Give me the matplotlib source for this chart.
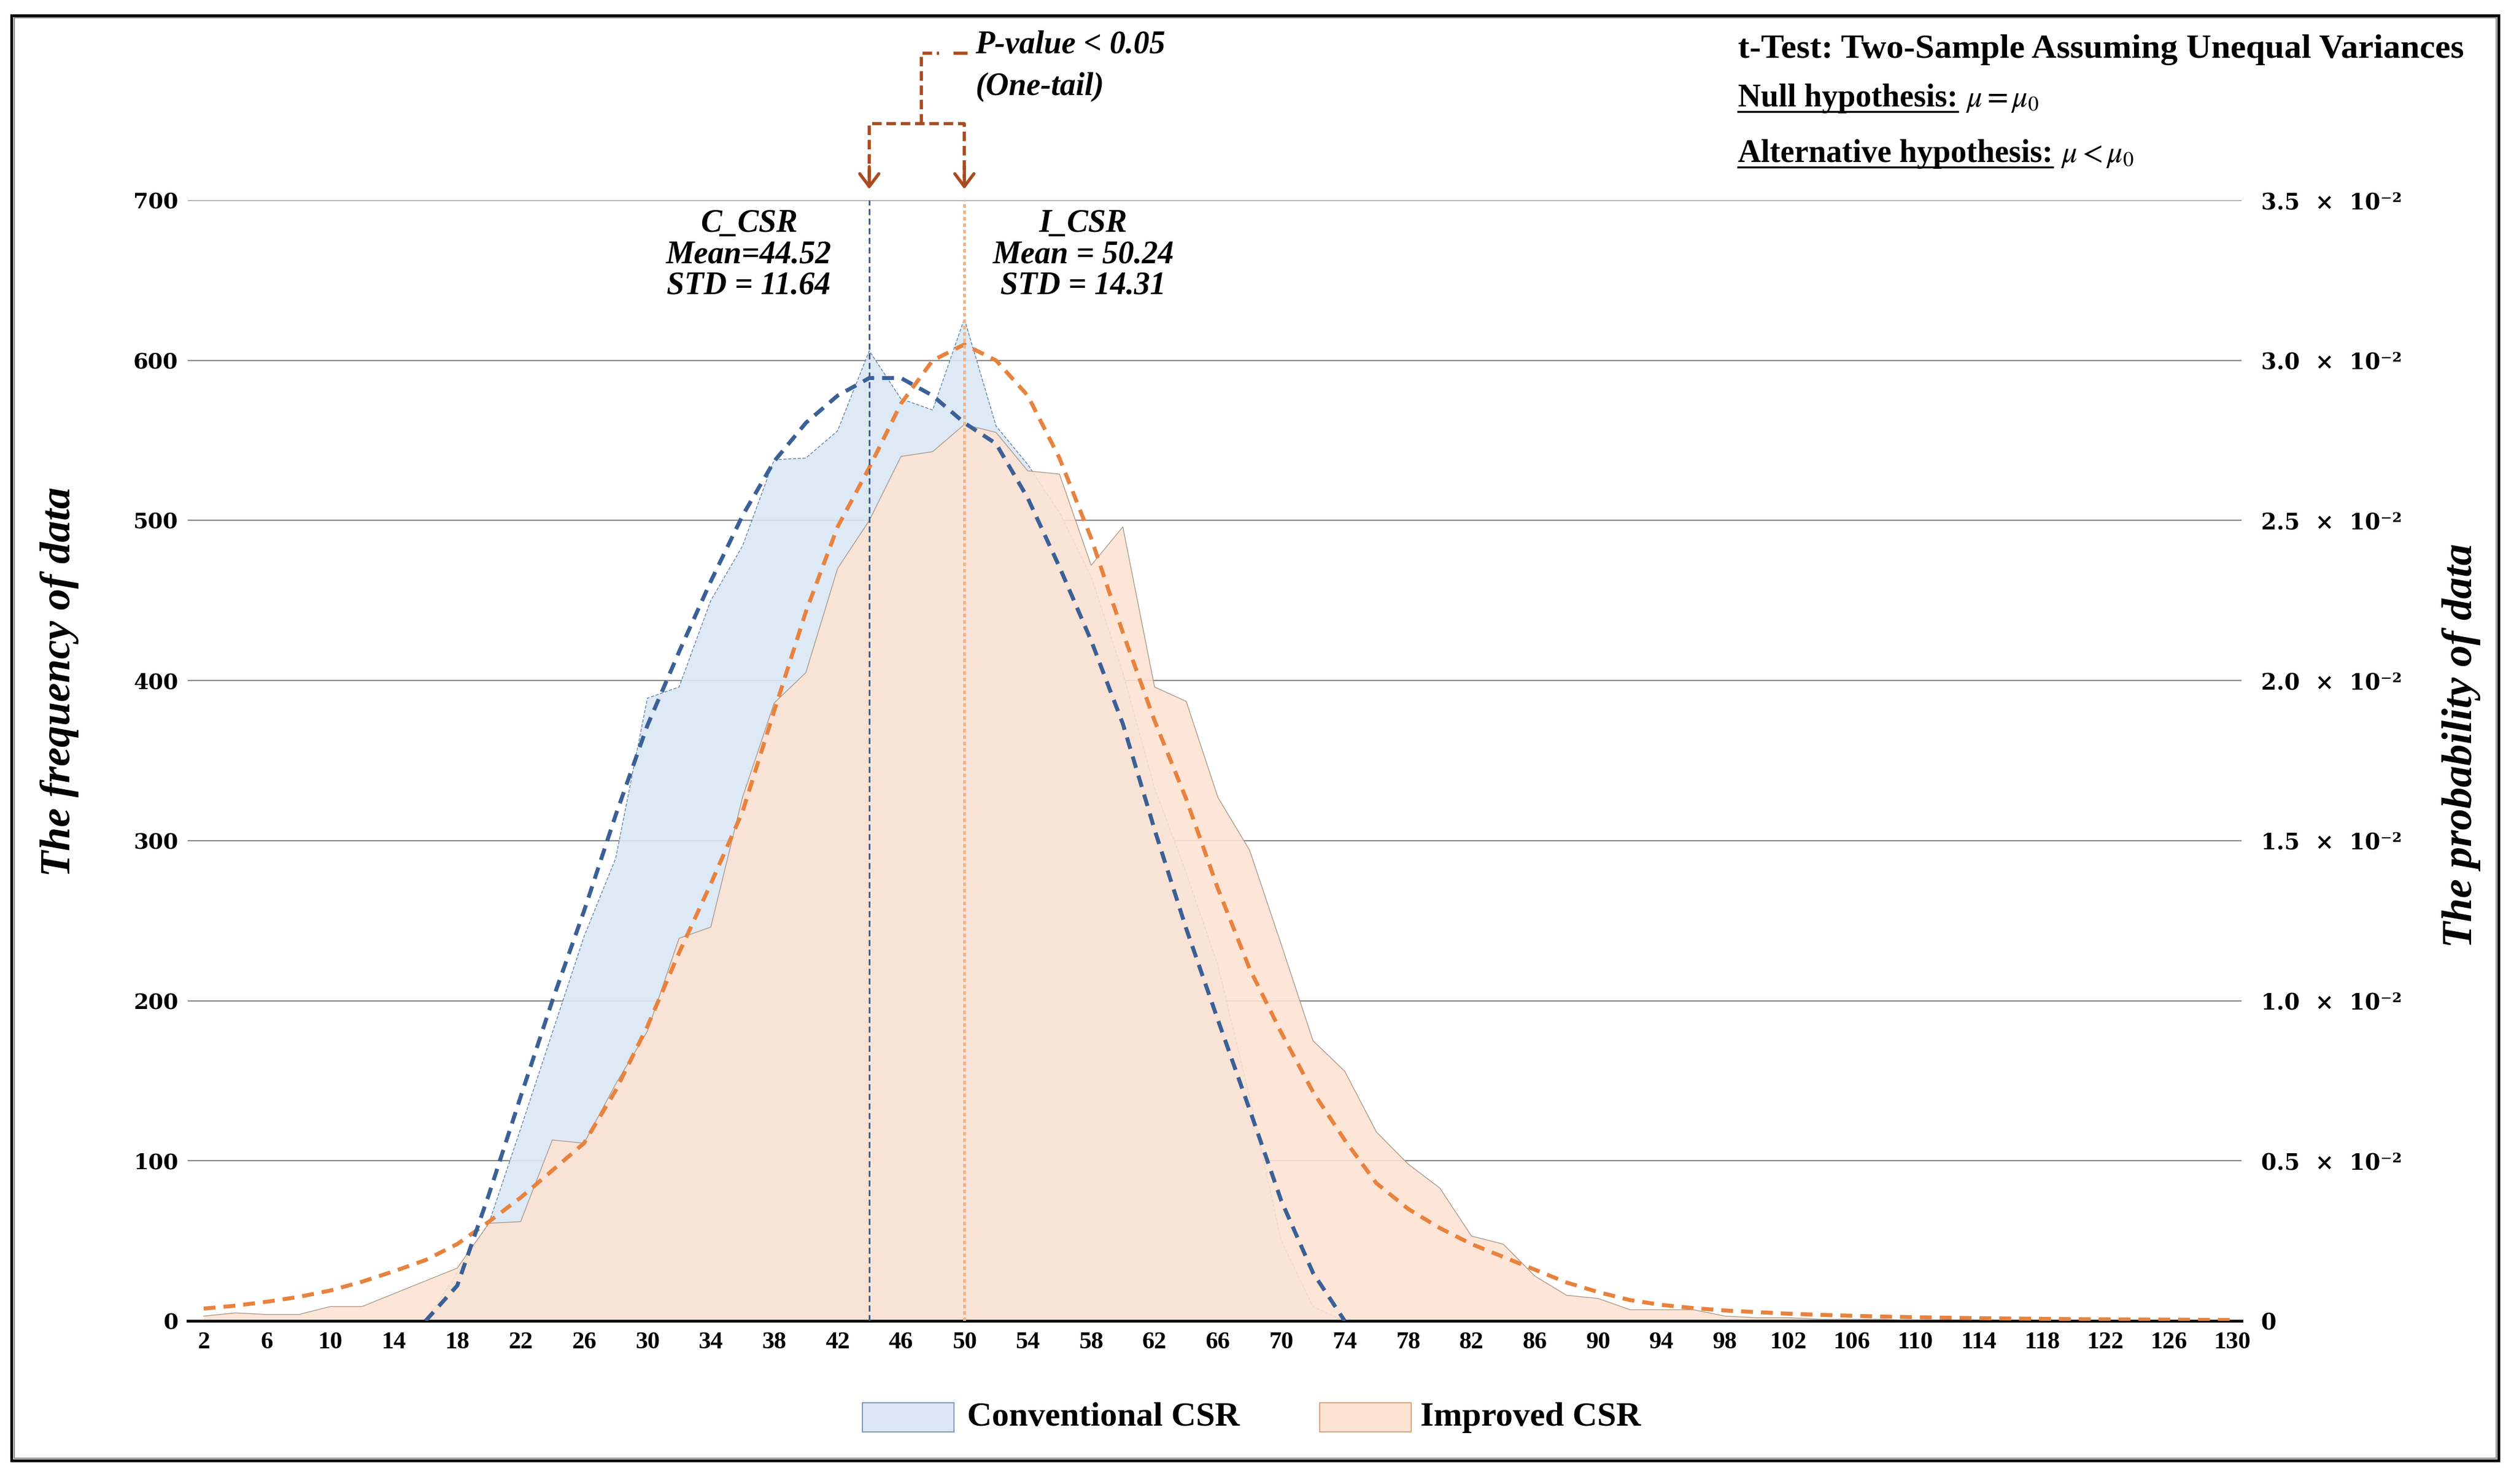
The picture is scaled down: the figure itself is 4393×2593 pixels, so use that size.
import numpy as np
import matplotlib
matplotlib.use('Agg')
import matplotlib.pyplot as plt
from matplotlib.patches import Rectangle
from matplotlib.lines import Line2D

plt.rcParams['font.family'] = 'serif'
plt.rcParams['font.serif'] = ['Liberation Serif', 'DejaVu Serif']
plt.rcParams['mathtext.fontset'] = 'stix'

# bins every 2 units, labels every 4
bins = list(range(2, 131, 2))
xtick_vals = list(range(2, 131, 4))

# frequency of data (left axis)
freq_conv = [0, 0, 0, 0, 0, 0, 0, 0,
             30, 61, 120, 180, 240, 289, 389, 396, 450, 484, 538, 539,
             556, 606, 576, 569, 626, 559, 535, 505, 465, 405, 333, 280,
             222, 140, 50, 9,
             0, 0, 0, 0, 0, 0, 0, 0, 0, 0, 0, 0, 0, 0, 0, 0, 0, 0, 0, 0,
             0, 0, 0, 0, 0, 0, 0, 0, 0]
freq_impr = [3, 5, 4, 4, 9, 9, 17, 25, 33, 61, 62, 113, 111, 148, 181, 239,
             246, 327, 386, 405, 470, 500, 540, 543, 560, 555, 531, 529, 472, 496,
             396, 387, 327, 294, 235, 175, 156, 118, 98, 83, 53, 48, 28, 16,
             14, 7, 7, 7, 3, 2, 2, 1, 1, 1,
             0, 0, 0, 0, 0, 0, 0, 0, 0, 0, 0]

# fitted probability curves (right axis), in units of 1e-2
fit_x_conv = list(range(16, 75, 2))
fit_conv_e2 = [0, 0.11, 0.395, 0.70, 1.00, 1.28, 1.58, 1.86, 2.09, 2.31,
               2.515, 2.685, 2.805, 2.89, 2.945, 2.945, 2.89, 2.805, 2.74, 2.57,
               2.355, 2.125, 1.865, 1.535, 1.225, 0.94, 0.66, 0.375, 0.15, 0]
fit_impr_e2 = [0.0385, 0.0475, 0.06, 0.075, 0.095, 0.1225, 0.155, 0.19, 0.24, 0.31,
               0.385, 0.47, 0.555, 0.72, 0.92, 1.15, 1.365, 1.59, 1.905, 2.215,
               2.48, 2.665, 2.865, 3.0, 3.05, 3.0, 2.89, 2.695, 2.445, 2.15,
               1.875, 1.63, 1.35, 1.1, 0.9, 0.715, 0.565, 0.43, 0.35, 0.29,
               0.24, 0.2, 0.16, 0.12, 0.09, 0.065, 0.05, 0.04, 0.0325, 0.0275,
               0.0225, 0.019, 0.016, 0.0135, 0.0115, 0.01, 0.0085, 0.0075, 0.0065, 0.0055,
               0.005, 0.0045, 0.004, 0.0035, 0.003]

mean_lines = [44, 50]
prob_ticks = [0, 0.5, 1.0, 1.5, 2.0, 2.5, 3.0, 3.5]

BLUE_FILL = '#dbe7f5'
ORANGE_FILL = '#fde3d2'
BLUE_FIT = '#3a6096'
ORANGE_FIT = '#e8823e'
BROWN = '#a84b1f'

fig = plt.figure(figsize=(43.93, 25.93), dpi=100)
ax = fig.add_axes([0.0747, 0.1099, 0.817, 0.7551])
ax.set_xlim(1, 130.6)
ax.set_ylim(0, 700)

ax.set_axisbelow(True)
ax.grid(axis='y', color='#888888', lw=1.6)

ax.fill_between(bins, freq_conv, color=BLUE_FILL, alpha=0.9, lw=0, zorder=1)
ax.plot(bins, freq_conv, color='#5b7fa8', lw=1.0, dashes=(4, 2), zorder=1.1)
ax.fill_between(bins, freq_impr, color=ORANGE_FILL, alpha=0.88, lw=0, zorder=2)
ax.plot(bins, freq_impr, color='#a89888', lw=1.0, zorder=2.1)

for s in ['left', 'right', 'top']:
    ax.spines[s].set_visible(False)
ax.spines['bottom'].set_linewidth(3.5)
ax.spines['bottom'].set_zorder(6)

ax.set_xticks(xtick_vals)
ax.set_xticklabels([str(v) for v in xtick_vals], fontsize=31, fontweight='bold')
ax.set_yticks(range(0, 701, 100))
ax.set_yticklabels([str(v) for v in range(0, 701, 100)], fontsize=27,
                   fontweight='bold', fontfamily='DejaVu Serif')
ax.tick_params(axis='x', length=0, pad=14)
ax.tick_params(axis='y', length=0, pad=12)

ax2 = ax.twinx()
ax2.set_ylim(0, 0.035)
ax2.set_yticks([t * 1e-2 for t in prob_ticks])
ax2.set_yticklabels(['0'] + ['%.1f  ×  10⁻²' % t for t in prob_ticks[1:]],
                    fontsize=28, fontweight='bold', fontfamily='DejaVu Serif')
ax2.tick_params(axis='y', length=0, pad=24)
for s in ax2.spines.values():
    s.set_visible(False)

ax2.plot(bins, np.array(fit_impr_e2) * 1e-2, color=ORANGE_FIT, lw=5, dashes=(3, 2))
ax2.plot(fit_x_conv, np.array(fit_conv_e2) * 1e-2, color=BLUE_FIT, lw=5, dashes=(3, 2))

# mean lines
ax2.axvline(mean_lines[0], color=BLUE_FIT, lw=2.2, dashes=(3.5, 2))
ax2.axvline(mean_lines[1], color='#f4b183', lw=3.5, dashes=(1.3, 1.0))

# p-value bracket
ax.plot([mean_lines[0], mean_lines[0], mean_lines[1], mean_lines[1]], [714, 748, 748, 714],
        color=BROWN, lw=4, dashes=(3, 1.5), clip_on=False)
ax.plot([47.3, 47.3, 48.4], [748, 792, 792], color=BROWN, lw=4, dashes=(3, 1.5), clip_on=False)
ax.plot([49.4, 50.1], [792, 792], color=BROWN, lw=4, clip_on=False)
for mx in mean_lines:
    ax.annotate('', xy=(mx, 706), xytext=(mx, 722), annotation_clip=False,
                arrowprops=dict(arrowstyle='->,head_length=0.8,head_width=0.6',
                                color=BROWN, lw=4, mutation_scale=20))

it = dict(fontsize=40, fontweight='bold', style='italic', clip_on=False)
ax.text(50.7, 797, 'P-value < 0.05', ha='left', va='center', **it)
ax.text(50.7, 771, '(One-tail)', ha='left', va='center', **it)
ax.text(36.4, 666, 'C_CSR\nMean=44.52\nSTD = 11.64', ha='center', va='center',
        linespacing=1.05, **it)
ax.text(57.5, 666, 'I_CSR\nMean = 50.24\nSTD = 14.31', ha='center', va='center',
        linespacing=1.05, **it)

# axis titles
fig.text(0.0236, 0.5407, 'The frequency of data', rotation=90, ha='center', va='center',
         fontsize=54, fontweight='bold', style='italic')
fig.text(0.979, 0.4975, 'The probability of data', rotation=90, ha='center', va='center',
         fontsize=54, fontweight='bold', style='italic')

# test box top right
fig.text(0.6913, 0.961, 't-Test: Two-Sample Assuming Unequal Variances',
         fontsize=43.5, fontweight='bold', va='baseline')
null_lab = fig.text(0.6913, 0.9283, 'Null hypothesis:', fontsize=40, fontweight='bold',
                    va='baseline')
alt_lab = fig.text(0.6913, 0.8909, 'Alternative hypothesis:', fontsize=40, fontweight='bold',
                   va='baseline')

# legend
fig.patches.append(Rectangle((0.3431, 0.0351), 0.0364, 0.0197, transform=fig.transFigure,
                             facecolor=BLUE_FILL, edgecolor='#7f9cc0', lw=1.5))
fig.text(0.3846, 0.0447, 'Conventional CSR', fontsize=43, fontweight='bold', va='center')
fig.patches.append(Rectangle((0.5249, 0.0351), 0.0364, 0.0197, transform=fig.transFigure,
                             facecolor=ORANGE_FILL, edgecolor='#e0a47a', lw=1.5))
fig.text(0.565, 0.0447, 'Improved CSR', fontsize=43, fontweight='bold', va='center')

# outer frame
fig.patches.append(Rectangle((0.0046, 0.0158), 0.9893, 0.9738, transform=fig.transFigure,
                             fill=False, edgecolor='black', lw=3.5))
fig.patches.append(Rectangle((0.0056, 0.0174), 0.9873, 0.9706, transform=fig.transFigure,
                             fill=False, edgecolor='#8a8a8a', lw=1.5))

# underline the hypothesis labels and add the formulas
fig.canvas.draw()
r = fig.canvas.get_renderer()
W, H = fig.bbox.width, fig.bbox.height
for lab, formula, yb in ((null_lab, r'$\mu = \mu_0$', 0.9283), (alt_lab, r'$\mu < \mu_0$', 0.8909)):
    bb = lab.get_window_extent(r)
    uy = (yb * H - 9) / H
    fig.add_artist(Line2D([bb.x0 / W, bb.x1 / W], [uy, uy], transform=fig.transFigure,
                          color='black', lw=2.5))
    fig.text((bb.x1 + 14) / W, yb, formula, fontsize=38, va='baseline')

fig.savefig('out.png', dpi=100)
